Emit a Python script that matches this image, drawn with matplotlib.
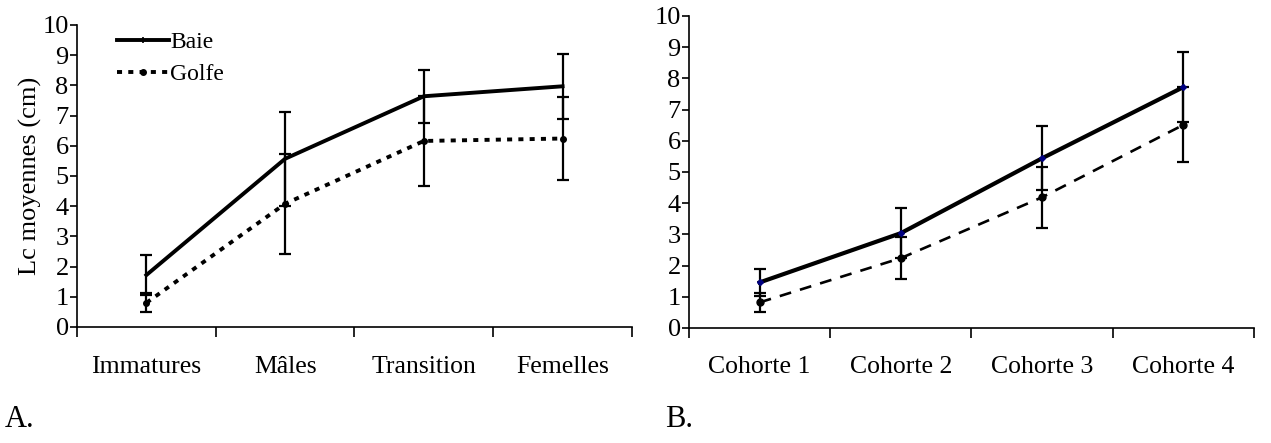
#!/usr/bin/env python3
"""Lc moyennes (cm) par stade (A) et par cohorte (B), Baie vs Golfe."""

import numpy as np
import matplotlib
matplotlib.use("Agg")
import matplotlib.pyplot as plt

plt.rcParams['font.family'] = ['Liberation Serif', 'DejaVu Serif']

# ── Data ─────────────────────────────────────────────────────────
stades = ['Immatures', 'Mâles', 'Transition', 'Femelles']
baie_a = [1.72, 5.57, 7.64, 7.97]
baie_a_err = [0.66, 1.55, 0.87, 1.08]
golfe_a = [0.80, 4.08, 6.16, 6.24]
golfe_a_err = [0.32, 1.65, 1.48, 1.37]

cohortes = ['Cohorte 1', 'Cohorte 2', 'Cohorte 3', 'Cohorte 4']
baie_b = [1.46, 3.04, 5.44, 7.72]
baie_b_err = [0.42, 0.80, 1.03, 1.12]
golfe_b = [0.82, 2.24, 4.19, 6.51]
golfe_b_err = [0.30, 0.68, 0.98, 1.20]

yticks = list(range(0, 11))

fig = plt.figure(figsize=(12.71, 4.43), dpi=100)
axA = fig.add_axes([0.0606, 0.2619, 0.4366, 0.6817])
axB = fig.add_axes([0.5421, 0.2596, 0.4445, 0.7043])


def style_axis(ax, labels, pad):
    n = len(labels)
    ax.set_xlim(0, n)
    ax.set_ylim(0, 10)
    for s in ('top', 'right'):
        ax.spines[s].set_visible(False)
    for s in ('left', 'bottom'):
        ax.spines[s].set_linewidth(1.2)
    ax.set_yticks(yticks)
    ax.set_yticklabels([str(t) for t in yticks], fontsize=19)
    ax.tick_params(axis='y', direction='out', length=5, width=1.2, pad=1)
    ax.set_xticks(np.arange(0, n + 1))
    ax.set_xticklabels([])
    ax.tick_params(axis='x', which='major', direction='out', length=7, width=1.2)
    ax.set_xticks(np.arange(n) + 0.5, minor=True)
    ax.set_xticklabels(labels, minor=True, fontsize=18.5)
    ax.tick_params(axis='x', which='minor', length=0, pad=pad)


x = np.arange(4) + 0.5
ebkw = dict(fmt='none', ecolor='black', elinewidth=1.6, capsize=4, capthick=1.6)

# Panel A
axA.errorbar(x, baie_a, yerr=baie_a_err, **ebkw)
axA.errorbar(x, golfe_a, yerr=golfe_a_err, **ebkw)
axA.plot(x, baie_a, color='black', lw=2.8, marker='|', ms=5, mew=1.2,
         label='Baie')
axA.plot(x, golfe_a, color='black', lw=2.8, dashes=(1.3, 1.6), marker='o',
         ms=4, label='Golfe')
style_axis(axA, stades, 21)
axA.set_ylabel('Lc moyennes (cm)', fontsize=19, labelpad=0)
axA.legend(loc='upper left', bbox_to_anchor=(0.055, 1.01), frameon=False,
           fontsize=17, handlelength=2.2, handletextpad=0.05,
           labelspacing=0.45, borderaxespad=0)

# Panel B
axB.errorbar(x, baie_b, yerr=baie_b_err, **ebkw)
axB.errorbar(x, golfe_b, yerr=golfe_b_err, **ebkw)
axB.plot(x, baie_b, color='black', lw=3.0, marker='D', ms=3,
         mfc='#000080', mec='#000080')
axB.plot(x, golfe_b, color='black', lw=1.9, dashes=(4.5, 3.5), marker='o',
         ms=5)
style_axis(axB, cohortes, 20)

fig.text(0.004, 0.02, 'A.', fontsize=22, ha='left', va='bottom')
fig.text(0.523, 0.02, 'B.', fontsize=22, ha='left', va='bottom')

fig.savefig('out.png', dpi=100)
plt.close()
